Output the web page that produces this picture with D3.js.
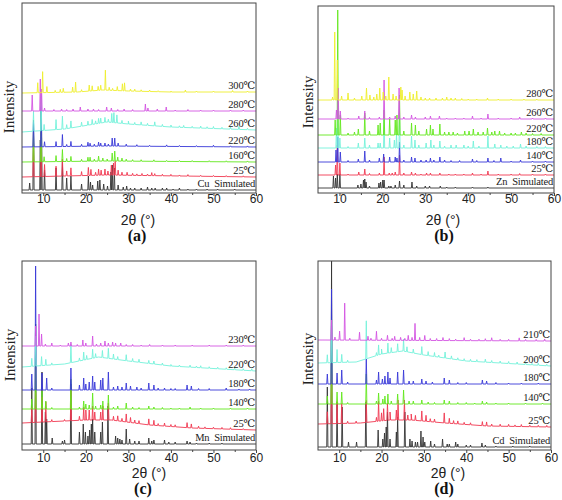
<!DOCTYPE html>
<html><head><meta charset="utf-8">
<script src="https://cdn.jsdelivr.net/npm/d3@7"></script>
<style>body{margin:0;background:#fff}svg{display:block}</style>
</head><body>
<svg id="chart" width="562" height="500"></svg>
<script>
// ---------------- DATA ----------------
const xTicks = [10, 20, 30, 40, 50, 60];
const xMinorTicks = [15, 25, 35, 45, 55];
const xTitle = "2θ (°)";
const yTitle = "Intensity";

// Panel (a) – series ordered bottom → top
const aNames = ["Cu  Simulated", "25℃", "160℃", "220℃", "260℃", "280℃", "300℃"];
const aBase = [
  [[5,3],[60,3]],
  [[5,16],[25,18],[60,16]],
  [[5,31],[25,32],[60,31]],
  [[5,46],[25,47],[60,46]],
  [[5,61],[15,64],[25,71],[30,69],[40,66],[60,63]],
  [[5,82],[60,82]],
  [[5,100],[18,101],[24,103],[30,102],[40,101],[60,101]]
];
const aPeaks = [
  [[6.8,7],[7.7,70],[9.3,50],[9.6,60],[10.3,20],[13.0,22],[14.5,28],[15.5,12],[16.5,14],[19.0,6],[20.6,14],[21.1,8],[21.6,5],[22.8,9],[23.3,10],[24.2,6],[25.1,4],[25.9,18],[26.2,25],[26.7,22],[27.6,5],[28.8,3],[29.6,4],[30.5,2],[31.5,2],[33.0,2],[34.5,3],[35.5,2],[36.3,2],[38.0,2],[39.0,2],[40.5,1],[42.0,2],[44.0,1],[46,1],[48.5,1],[51,1],[55,1]],
  [[7.7,35],[9.5,45],[10.3,12],[13.0,10],[14.5,17],[15.5,5],[16.5,8],[19.0,4],[20.6,8],[21.2,6],[22.3,3],[23.0,6],[23.6,5],[24.5,6],[25.2,4],[26.0,10],[26.5,12],[26.9,14],[27.6,5],[28.5,3],[29.7,3],[31,2],[32,1.5],[33.2,2],[34.5,1.5],[35.5,3],[36.2,2],[38,1.5],[40,1.5],[42,1],[44,1.5],[47,1],[50,1],[53,1],[57,1]],
  [[7.7,30],[9.5,65],[10.2,5],[13.0,6],[14.5,12],[15.5,3],[16.5,5],[19.0,2],[20.5,4],[21.0,4],[22,2],[23.0,5],[24.0,3],[25,2],[26.2,8],[26.8,10],[27.5,4],[28.5,3],[29.5,2],[31,1.5],[33,1.5],[36,1.5],[39,1],[42,1],[45,1],[49,1],[53,1],[58,1]],
  [[7.7,25],[9.5,40],[10.3,5],[13.0,5],[14.5,12],[15.5,2],[16.5,5],[19.0,2],[20.5,4],[21.0,3],[22,2],[23.0,4],[23.5,3],[24.5,3],[25.3,2],[26.2,8],[26.8,8],[27.6,3],[29.5,2],[32,1.5],[35,1],[39,1.5],[42,1],[46,1],[50,1.5],[54,1],[58,1]],
  [[7.7,20],[9.5,35],[10.2,6],[13.0,10],[14.5,13],[15.5,4],[16.5,7],[19.0,4],[20.5,4],[21.5,5],[22.3,3],[23.0,5],[23.5,5],[24.5,5],[25.3,3],[26.1,9],[26.6,10],[27.3,8],[28.5,3],[30.0,3],[31.5,2],[33.0,3],[34.5,2],[36.2,4],[38.0,2],[40.0,2],[42,1.5],[43.0,2],[45,1.5],[47.0,2],[48.5,1.5],[50.0,2],[52,1.5],[54.0,2],[56.0,3],[58,1.5]],
  [[7.4,16],[9.3,32],[9.6,22],[10.3,3],[12.5,1.5],[14.3,2],[15.5,1.5],[17.0,2],[18.7,4],[20.5,2],[21.8,2],[23,1.5],[24.9,4],[26.0,3],[27.5,1.5],[29.0,2],[31,1.5],[34.0,7],[34.6,3],[36.8,2],[38.9,4],[41,1],[44,1.5],[47,1],[50,1],[54,1],[57,1]],
  [[8.7,10],[9.85,21],[10.85,6],[12.8,2],[14.0,3],[14.7,4],[16.9,5],[17.6,10],[19,2],[20.8,6],[21.5,5],[22.9,4],[23.5,5],[24.6,20],[25.5,3],[26.3,2],[27.4,4],[28.6,7],[29.1,8],[30.5,2],[31.5,2],[33,1.5],[35,1.5],[37,1],[40,1],[43.4,2],[46,1],[50,1],[54.5,1.5],[58,1]]
];

// Panel (b)
const bNames = ["Zn  Simulated", "25℃", "140℃", "180℃", "220℃", "260℃", "280℃"];
const bBase = [
  [[5,5],[60,5]],
  [[5,18],[60,18]],
  [[5,31],[60,31]],
  [[5,45],[60,45]],
  [[5,58],[60,58]],
  [[5,74],[60,74]],
  [[5,93],[60,93]]
];
const bPeaks = [
  [[8.6,12],[9.1,10],[9.5,14],[10.1,14],[14.3,3],[15.0,4],[15.6,8],[15.9,9],[16.2,6],[17.0,2],[19.2,5],[19.6,6],[20.1,8],[20.4,8],[21.5,2],[22.0,2],[23.0,3],[24.0,7],[25.0,3],[26.9,6],[28.0,2],[30.0,2],[31.0,2],[33.5,2],[35,1],[37,1],[41,1],[44.6,1]],
  [[9.1,10],[9.5,30],[10.1,12],[12,1],[14.5,3],[15.9,6],[17,1.5],[19.3,2],[20.4,18],[21.6,2],[22.3,2],[23.0,3],[24.0,20],[25,2],[26.8,3],[27.7,2],[29,1],[30.3,2],[31.2,2],[33.4,2],[35.5,1],[37,1],[39,1],[41.0,2],[43,1],[44.6,4],[47,1],[50,1],[52,1.5],[55,1],[58,1]],
  [[9.2,12],[9.6,25],[10.2,10],[12,1.5],[14.4,3],[15.9,11],[17,2],[19.3,4],[20.3,8],[21.7,5],[23.0,5],[23.4,4],[24.0,20],[25,2],[26.8,5],[27.6,4],[29,2],[30.2,2],[31.2,4],[32,2],[33.4,5],[34.5,2],[36,1.5],[38,1.5],[41.0,3],[42,1.5],[44.6,4],[46,1.5],[47.6,4],[50,1],[52.2,2],[55,1],[58,1]],
  [[9.3,20],[9.6,60],[10.1,10],[12,1.5],[14.4,5],[15.9,10],[17.0,3],[19.0,5],[19.5,5],[20.4,30],[21.7,10],[22.8,8],[23.3,14],[24.0,35],[25,3],[26.8,12],[27.6,8],[28.5,3],[30.2,5],[31.3,8],[32,3],[33.4,7],[34.5,2],[36.0,3],[37.2,3],[39.0,3],[40,2],[41.2,7],[42.5,2],[44.6,12],[46.2,4],[47.6,3],[49,2],[50.5,2],[52.2,4],[53.5,2],[56,1.5],[58,1.5]],
  [[9.0,15],[9.6,125],[10.2,20],[12,2],[13.5,3],[14.4,6],[15.9,22],[17.0,4],[19.0,10],[19.5,12],[20.4,25],[21.7,16],[23.0,15],[23.4,20],[24.0,40],[25,4],[26.8,12],[27.7,10],[28.5,4],[30.3,6],[31.2,10],[31.8,6],[33.4,11],[34.5,3],[35.5,3],[36.5,3],[37.5,2],[39.2,4],[40.2,4],[41.2,6],[42.3,3],[43.5,3],[44.5,7],[45.5,3],[46.2,4],[47.3,4],[48.5,2],[50,2],[51,2],[52.4,3],[53.5,2],[55,1.5],[57,1.5]],
  [[9.3,9],[9.7,31],[10.2,8],[12,1],[14.5,3],[15.9,8],[17,1.5],[19.3,2],[20.4,39],[21.7,2],[23.0,3],[23.9,31],[25,2],[26.8,4],[27.7,2],[30.0,2],[31.2,3],[33.3,3],[35,1],[37,1],[39,1],[41.0,3],[43,1],[44.6,5],[47,1],[50,1],[52.0,2],[55,1],[58,1]],
  [[8.4,3],[8.9,68],[9.5,40],[10.5,4],[12.0,7],[13.5,2],[15.2,4],[16.3,12],[17.1,5],[18.0,3],[18.7,6],[19.4,12],[20.2,8],[20.8,4],[21.5,23],[22.5,6],[23.2,4],[24.3,13],[24.6,10],[25.3,4],[26.4,8],[27.2,6],[28.0,9],[29,3],[30,2],[31,2],[32.5,2],[34,2],[35,3],[36,2],[37,2],[38.5,1.5],[40,1],[42,1],[44.5,2],[47,1],[50,1],[53,1],[56,1]]
];

// Panel (c)
const cNames = ["Mn  Simulated", "25℃", "140℃", "180℃", "220℃", "230℃"];
const cBase = [
  [[5,6],[60,6]],
  [[5,27],[20,30],[26,30],[35,25],[45,22],[60,20]],
  [[5,41],[60,41]],
  [[5,60],[60,60]],
  [[5,83],[15,86],[23,93],[30,89],[40,84],[60,79]],
  [[5,104],[60,104]]
];
const cPeaks = [
  [[7.3,56],[8.2,120],[9.7,72],[10.5,32],[10.8,25],[12.1,6],[14.5,3],[15.0,4],[16.5,60],[18.5,12],[19.4,20],[19.9,12],[20.5,8],[20.9,14],[21.3,20],[21.6,25],[22.1,12],[23.5,12],[23.9,22],[25.2,38],[27.0,8],[27.5,6],[28.0,5],[28.5,4],[29.5,15],[30.3,5],[31.5,3],[32.5,3],[34.8,6],[35.5,3],[36.0,4],[38.5,4],[39.5,2],[41.0,2],[43.8,3],[44.5,2],[46,1],[49,1],[52,1]],
  [[7.3,15],[8.2,30],[9.7,25],[10.6,20],[12,2],[15,1.5],[16.5,30],[18.5,4],[19.5,13],[20.0,10],[20.8,10],[21.6,14],[22.1,8],[23.5,8],[24.0,14],[25.3,17],[26.5,4],[27.5,5],[28.5,3],[29.5,8],[30.5,5],[31.5,3],[32.5,3],[34.8,6],[36.0,5],[37,2],[38.5,3],[40,2],[41,2],[43.8,5],[44.8,4],[46.5,2],[48,1.5],[50,1.5],[52,1.5],[54,1.5],[57,1]],
  [[7.3,10],[8.2,45],[9.7,18],[10.6,8],[12,1.5],[16.5,30],[18.5,2],[19.5,8],[20.0,5],[20.8,4],[21.6,16],[22.3,3],[23.5,4],[24.0,8],[25.3,14],[26.5,2],[27.5,3],[29.5,6],[31,2],[32.5,1.5],[34.8,3],[36.0,2],[38,1.5],[40,1],[42,1],[44.5,2],[47,1],[50,1],[54,1],[58,1]],
  [[7.3,16],[8.2,124],[9.7,17],[10.8,12],[12,2],[16.5,22],[18.5,5],[19.5,12],[20.0,6],[20.8,8],[21.6,14],[22.1,8],[23.5,10],[24.0,12],[25.3,18],[26.5,3],[27.5,4],[28.5,3],[29.5,7],[30.5,4],[32.0,3],[33,2],[34.8,7],[36.0,5],[37,2],[38.5,2],[40,1.5],[41,1.5],[43.8,5],[44.8,4],[46.5,1.5],[49,1.5],[53.0,2],[56,1],[58.5,1]],
  [[7.3,8],[8.2,30],[9.6,9],[10.6,6],[12,2],[16.5,18],[18.5,3],[19.5,8],[20.2,4],[21.6,9],[22.3,4],[23.9,7],[25.3,10],[26.5,5],[27.5,3],[29.5,6],[31.0,3],[32.5,3],[34.8,3],[36.0,3],[38,2],[40,1.5],[42,1.5],[44.5,2],[46,1.5],[47.0,2],[49,1.5],[51,1.5],[53,1.5],[55,1.5],[57,1.5],[59,2]],
  [[8.2,20],[9.0,32],[9.6,12],[10.5,2],[12.0,3],[14,1],[15.9,3],[16.5,4],[18,1.5],[19.3,6],[20.0,3],[21.6,10],[22.5,2],[23.5,3],[24.5,5],[25.3,3],[26.3,4],[27.0,3],[28.2,3],[29.5,1.5],[31,1.5],[33,1],[35,1.5],[38,1],[41,1],[45,1],[49,1],[53,1],[57,1]]
];

// Panel (d)
const dNames = ["Cd  Simulated", "25℃", "140℃", "180℃", "200℃", "210℃"];
const dBase = [
  [[5,3],[60,3]],
  [[5,26],[15,27],[22,30],[27,30],[35,27],[45,24],[60,23]],
  [[5,46],[60,46]],
  [[5,66],[60,66]],
  [[5,87],[14,88],[20,96],[25,99],[30,95],[40,89],[60,84]],
  [[5,110],[60,109]]
];
const dPeaks = [
  [[7.2,60],[8.2,186],[9.5,45],[10.7,40],[12.2,5],[14.1,5],[16.3,45],[19.2,17],[20.3,8],[20.7,14],[21.1,20],[21.4,35],[22.0,8],[23.5,15],[23.8,30],[25.5,35],[26.7,8],[27.2,6],[28.0,5],[28.5,5],[29.3,16],[29.8,10],[30.2,5],[31.6,6],[32.5,3],[34.4,8],[35.5,3],[36.0,3],[37.5,5],[38.0,3],[40.0,2],[41.0,2],[43.7,4],[44.5,2],[47,1],[51,1],[55,1]],
  [[7.2,12],[8.2,50],[9.5,22],[10.6,20],[12,2],[14,2],[16.4,22],[18.8,4],[19.3,20],[20.0,8],[20.5,12],[21.4,17],[22.0,8],[23.5,10],[23.9,20],[25.4,20],[26.2,5],[27.0,6],[28.0,5],[29.5,10],[30.5,6],[31.5,3],[32.5,3],[34.8,10],[36.0,5],[37,3],[38.0,3],[39.5,2],[41,2],[43.8,4],[44.8,4],[46,2],[48,2],[50.0,2],[51.5,1.5],[53.0,2],[55,1.5],[57,1.5],[59,1.5]],
  [[7.2,8],[8.2,85],[9.5,12],[10.6,12],[12,1.5],[16.4,30],[18.8,3],[19.3,11],[20.3,5],[20.8,8],[21.5,10],[22.3,3],[23.8,10],[25.2,14],[26.5,3],[27.5,3],[29.5,4],[31,2],[32.5,1.5],[34.8,4],[36.0,3],[38,1.5],[40,1.5],[42,1],[43.8,3],[44.8,2],[47,1],[50,1],[54,1],[58,1]],
  [[7.2,10],[8.2,95],[9.5,11],[10.6,14],[12,2],[16.4,25],[18.8,4],[19.3,12],[20.2,5],[20.8,8],[21.5,12],[22.0,6],[23.8,12],[25.2,14],[26.5,3],[27.5,3],[29.5,5],[30.5,3],[32,2],[34.8,6],[36.0,4],[38,1.5],[40,1.5],[43.8,4],[44.8,3],[47,1.5],[50,1],[53,1],[57,1]],
  [[7.2,8],[8.2,40],[9.5,13],[10.6,8],[12,2],[16.4,38],[18.8,3],[19.3,10],[20.0,5],[21.5,10],[22.3,5],[23.8,8],[25.2,12],[26.0,5],[27.5,4],[29.5,8],[31.0,4],[32.5,4],[33.5,2],[35.0,6],[36.5,3],[38,2],[39.5,2],[41.0,2],[42.5,2],[44.5,3],[46,2],[48,2],[50.0,2],[52.0,2],[54,2],[55.5,1.5],[57.0,2],[59,1.5]],
  [[8.2,20],[9.0,3],[10.1,9],[11.3,37],[12.5,2],[14.8,8],[16.8,4],[17.5,2],[18.8,9],[20,2],[21.4,5],[22.5,2],[23.1,4],[24.5,3],[25.5,2],[26.3,5],[27.2,3],[27.9,17],[29,3],[30.2,5],[31.5,2],[33,2],[34.5,3],[36,2],[37.5,1.5],[39.5,3],[41,1.5],[43,1.5],[44.5,2],[46.0,3],[48,1.5],[50,1.5],[52.5,3],[54,1.5],[56.5,1.5],[58.5,2]]
];

// ---------------- STYLE / LAYOUT ----------------
const C = {black:"#333333", red:"#f03850", green:"#62e81c", blue:"#3838d8", cyan:"#74f2da", magenta:"#d455e2", yellow:"#eeee2c"};
const panels = [
  {names:aNames, base:aBase, peaks:aPeaks, colors:[C.black,C.red,C.green,C.blue,C.cyan,C.magenta,C.yellow],
   x0:22, x1:256, y0:3, y1:193, tickY:199, titleX:138, titleY:220, letter:"(a)", letterX:137, letterY:235, intX:9, intY:107},
  {names:bNames, base:bBase, peaks:bPeaks, colors:[C.black,C.red,C.blue,C.cyan,C.green,C.magenta,C.yellow],
   x0:318, x1:554, y0:6, y1:193, tickY:199, titleX:443, titleY:220, letter:"(b)", letterX:444, letterY:235, intX:308, intY:102},
  {names:cNames, base:cBase, peaks:cPeaks, colors:[C.black,C.red,C.green,C.blue,C.cyan,C.magenta],
   x0:22, x1:256, y0:261, y1:450, tickY:458, titleX:149, titleY:473, letter:"(c)", letterX:143, letterY:488, intX:10, intY:355},
  {names:dNames, base:dBase, peaks:dPeaks, colors:[C.black,C.red,C.green,C.blue,C.cyan,C.magenta],
   x0:318, x1:551, y0:261, y1:450, tickY:458, titleX:448, titleY:473, letter:"(d)", letterX:444, letterY:488, intX:308, intY:359}
];

const svg = d3.select("#chart");
const halfW = 0.14;

panels.forEach((p, pi) => {
  const g = svg.append("g");
  const x = d3.scaleLinear().domain([5, 60]).range([p.x0, p.x1]);
  const y = d3.scaleLinear().domain([0, p.y1 - p.y0]).range([p.y1, p.y0]);
  const clipId = "clip" + pi;
  svg.append("clipPath").attr("id", clipId).append("rect")
    .attr("x", p.x0).attr("y", p.y0).attr("width", p.x1 - p.x0).attr("height", p.y1 - p.y0);

  const line = d3.line().x(d => x(d[0])).y(d => y(d[1])).curve(d3.curveLinear);
  const plot = g.append("g").attr("clip-path", `url(#${clipId})`);

  p.names.forEach((name, si) => {
    const b = p.base[si];
    const baseAt = d3.scaleLinear().domain(b.map(d => d[0])).range(b.map(d => d[1])).clamp(true);
    const pts = b.map(d => [d[0], d[1]]);
    p.peaks[si].forEach(([px, h]) => {
      pts.push([px - halfW, baseAt(px - halfW)]);
      pts.push([px, baseAt(px) + h]);
      pts.push([px + halfW, baseAt(px + halfW)]);
    });
    pts.sort((u, v) => u[0] - v[0]);
    plot.append("path").datum(pts).attr("d", line)
      .attr("fill", "none").attr("stroke", p.colors[si]).attr("stroke-width", 0.9)
      .attr("stroke-linejoin", "miter");

    g.append("text").attr("x", p.x1 - 1).attr("y", y(baseAt(60)) - 7).attr("dy", "0.35em")
      .attr("text-anchor", "end")
      .style("font-family", "'Liberation Serif','DejaVu Serif',serif").style("font-size", "10.5px")
      .style("letter-spacing", "-0.2px")
      .style("fill", "#222").style("white-space", "pre").attr("xml:space", "preserve")
      .text(name);
  });

  // frame
  g.append("rect").attr("x", p.x0).attr("y", p.y0).attr("width", p.x1 - p.x0).attr("height", p.y1 - p.y0)
    .attr("fill", "none").attr("stroke", "#444").attr("stroke-width", 1);

  // axis
  const ax = g.append("g").attr("transform", `translate(0,${p.y1})`)
    .call(d3.axisBottom(x).tickValues(xTicks).tickSize(3).tickPadding(0).tickSizeOuter(0));
  ax.select(".domain").remove();
  ax.selectAll("line").attr("stroke", "#444");
  ax.selectAll("text").attr("y", null).attr("dy", null)
    .attr("transform", `translate(0,${p.tickY - p.y1})`).attr("dominant-baseline", "central")
    .style("font-family", "'Liberation Sans',Arial,sans-serif").style("font-size", "12px").style("fill", "#222");
  const mx = g.append("g").attr("transform", `translate(0,${p.y1})`)
    .call(d3.axisBottom(x).tickValues(xMinorTicks).tickSize(2).tickFormat(""));
  mx.select(".domain").remove();
  mx.selectAll("line").attr("stroke", "#444");

  g.append("text").attr("x", p.titleX).attr("y", p.titleY).attr("dominant-baseline", "central")
    .attr("text-anchor", "middle")
    .style("font-family", "'Liberation Sans',Arial,sans-serif").style("font-size", "14px").style("fill", "#222")
    .text(xTitle);
  g.append("text").attr("x", p.letterX).attr("y", p.letterY).attr("dominant-baseline", "central")
    .attr("text-anchor", "middle")
    .style("font-family", "'Liberation Serif','Times New Roman',serif").style("font-size", "16px")
    .style("font-weight", "bold").style("fill", "#111")
    .text(p.letter);
  g.append("text").attr("transform", `translate(${p.intX},${p.intY}) rotate(-90)`)
    .attr("dominant-baseline", "central").attr("text-anchor", "middle")
    .style("font-family", "'Liberation Serif','Times New Roman',serif").style("font-size", "15px").style("fill", "#222")
    .text(yTitle);
});
</script>
</body></html>
